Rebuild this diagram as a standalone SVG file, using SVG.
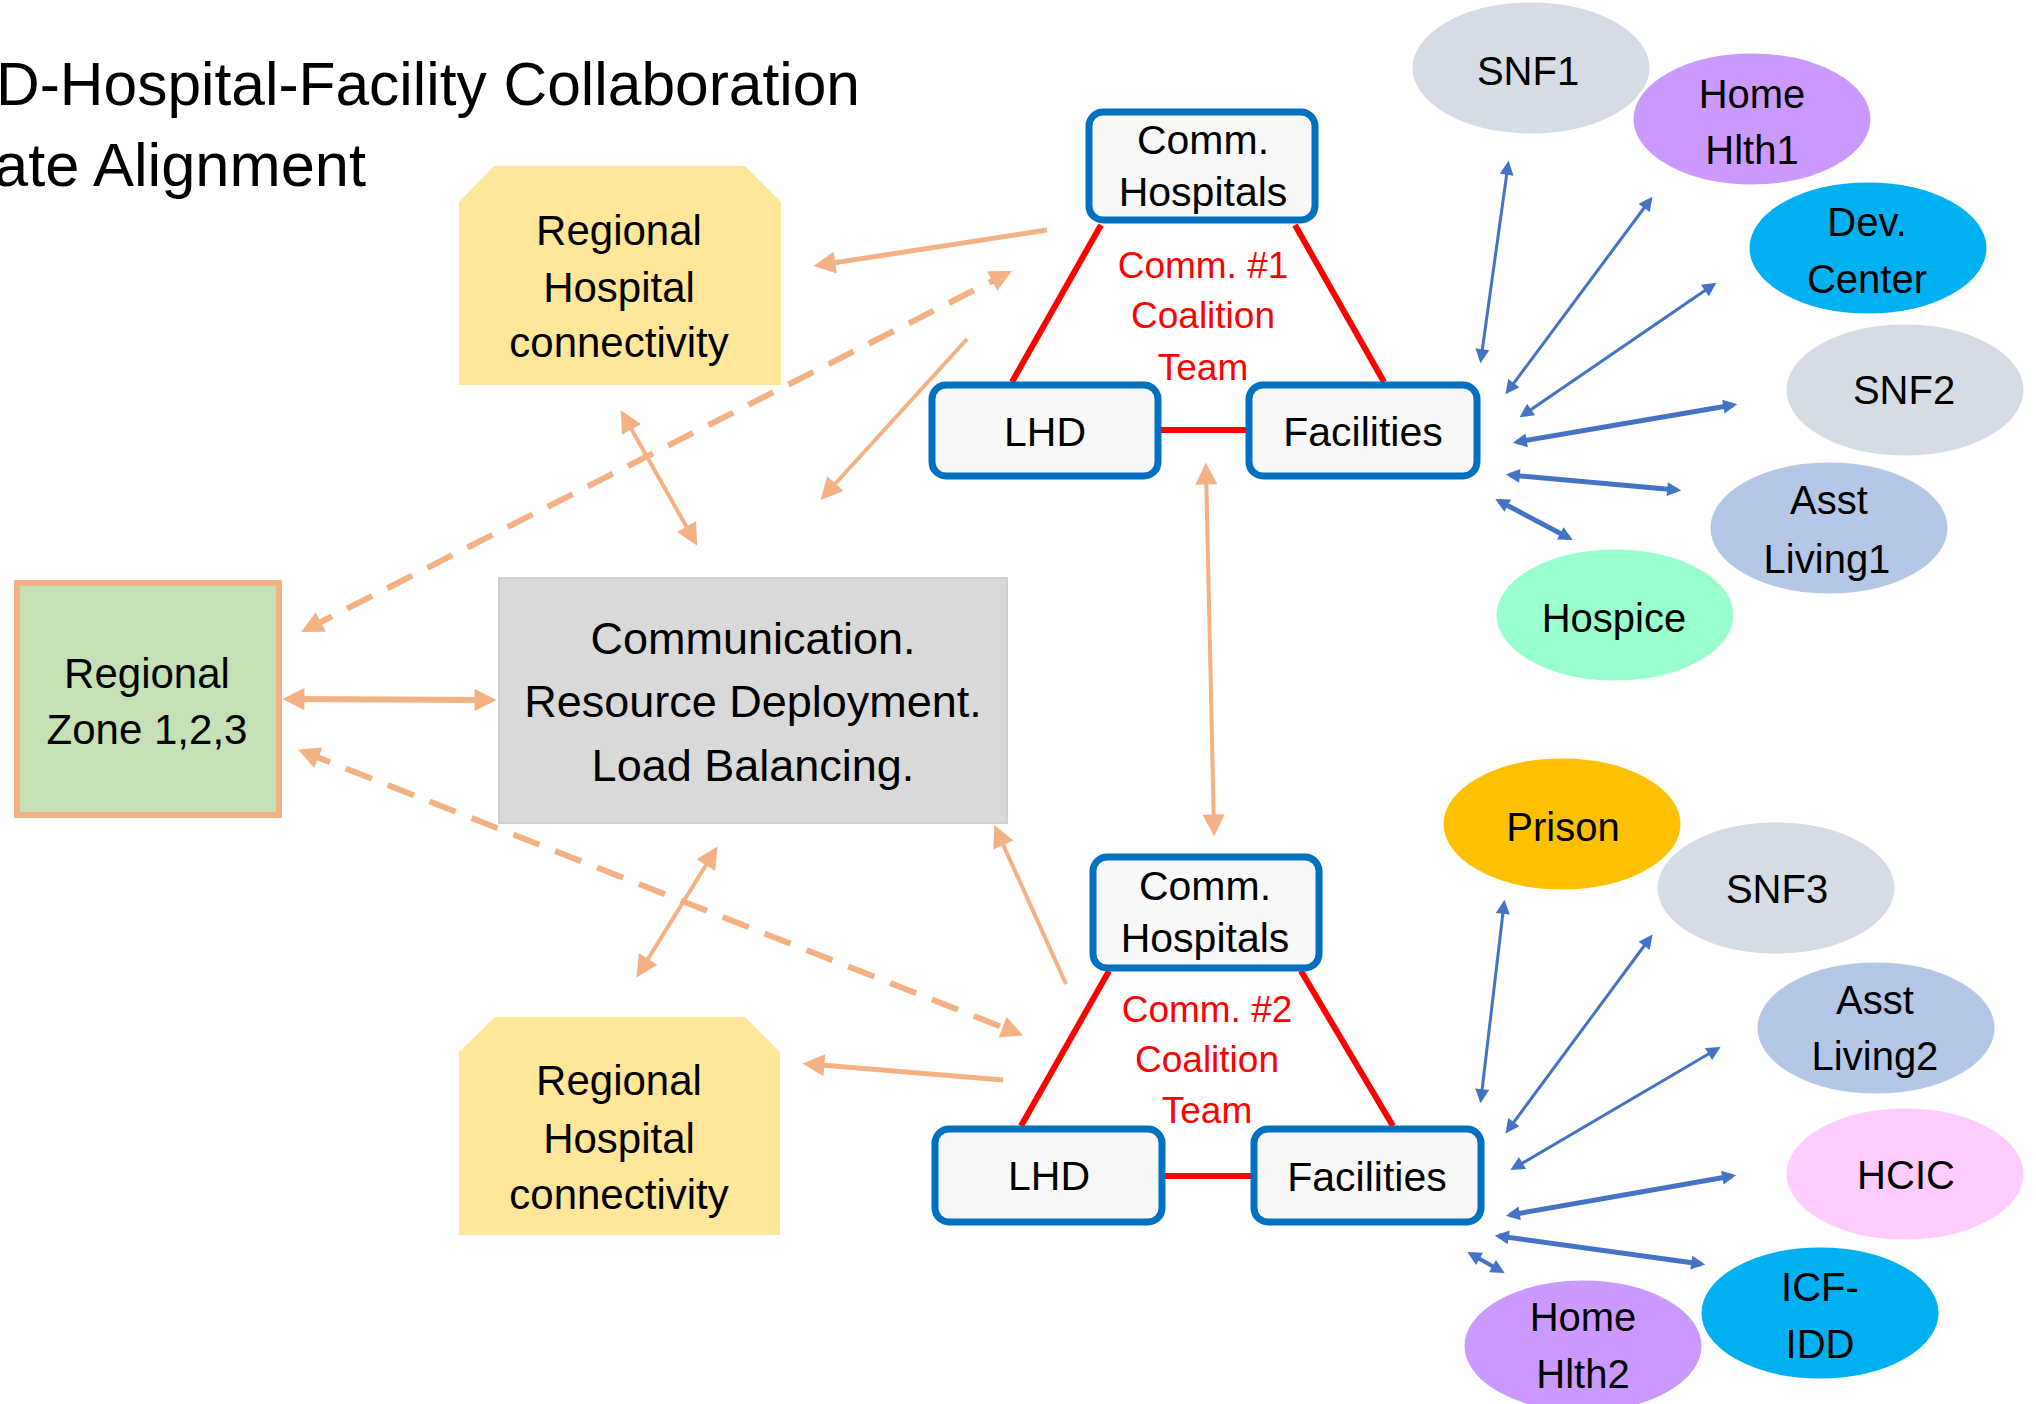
<svg xmlns="http://www.w3.org/2000/svg" width="2036" height="1404" viewBox="0 0 2036 1404">
<style>
text{font-family:"Liberation Sans",Arial,sans-serif;fill:#000;text-anchor:middle}
.t1{font-size:42px}
.t2{font-size:45px}
.tb{font-size:41px}
.te{font-size:40px}
.tr{font-size:37px;fill:#FF0000}
.box{fill:#F8F8F8;stroke:#0070C0;stroke-width:7}
.yel{fill:#FFE699}
.ell{stroke:#FFFFFF;stroke-width:3}
.red{stroke:#FF0000;stroke-width:6;fill:none}
.or{stroke:#F4B183;fill:none}
.bl{stroke:#4472C4;fill:none}
.dash{stroke-dasharray:28 17}
</style>
<defs>
<marker id="oa" viewBox="0 0 10 10" refX="7" refY="5" markerWidth="24" markerHeight="22" markerUnits="userSpaceOnUse" orient="auto-start-reverse"><path d="M0,0 L10,5 L0,10 z" fill="#F4B183"/></marker>
<marker id="ba" viewBox="0 0 10 10" refX="7" refY="5" markerWidth="16" markerHeight="14" markerUnits="userSpaceOnUse" orient="auto-start-reverse"><path d="M0,0 L10,5 L0,10 z" fill="#4472C4"/></marker>
</defs>
<rect x="0" y="0" width="2036" height="1404" fill="#FFFFFF"/>
<g id="title">
<text x="860" y="105" style="font-family:'Liberation Sans',Arial,sans-serif;font-size:62px;text-anchor:end" textLength="864" lengthAdjust="spacingAndGlyphs">D-Hospital-Facility Collaboration</text>
<text x="366" y="186" style="font-family:'Liberation Sans',Arial,sans-serif;font-size:62px;text-anchor:end" textLength="372" lengthAdjust="spacingAndGlyphs">ate Alignment</text>
</g>
<g id="connectors">
<line class="red" x1="1101" y1="225" x2="1012" y2="382"/>
<line class="red" x1="1295" y1="225" x2="1384" y2="382"/>
<line class="red" x1="1161" y1="430" x2="1246" y2="430" stroke-width="7"/>
<line class="red" x1="1109" y1="971" x2="1021" y2="1126"/>
<line class="red" x1="1301" y1="971" x2="1393" y2="1126"/>
<line class="red" x1="1165" y1="1176" x2="1251" y2="1176" stroke-width="7"/>
<line class="or" stroke-width="5" x1="1047" y1="230" x2="820" y2="265" marker-end="url(#oa)"/>
<line class="or dash" stroke-width="6" x1="307" y1="629" x2="1006" y2="274" marker-start="url(#oa)" marker-end="url(#oa)"/>
<line class="or" stroke-width="4" x1="967" y1="339" x2="825" y2="495" marker-end="url(#oa)"/>
<line class="or" stroke-width="4" x1="624" y1="416" x2="694" y2="540" marker-start="url(#oa)" marker-end="url(#oa)"/>
<line class="or" stroke-width="6" x1="289" y1="699" x2="490" y2="700" marker-start="url(#oa)" marker-end="url(#oa)"/>
<line class="or dash" stroke-width="6" x1="304" y1="752" x2="1017" y2="1033" marker-start="url(#oa)" marker-end="url(#oa)"/>
<line class="or" stroke-width="4" x1="714" y1="852" x2="640" y2="972" marker-start="url(#oa)" marker-end="url(#oa)"/>
<line class="or" stroke-width="4" x1="1066" y1="984" x2="997" y2="831" marker-end="url(#oa)"/>
<line class="or" stroke-width="5" x1="1003" y1="1080" x2="809" y2="1064" marker-end="url(#oa)"/>
<line class="or" stroke-width="4" x1="1206" y1="469" x2="1214" y2="830" marker-start="url(#oa)" marker-end="url(#oa)"/>
<line class="bl" stroke-width="3" x1="1481" y1="359" x2="1508" y2="165" marker-start="url(#ba)" marker-end="url(#ba)"/>
<line class="bl" stroke-width="3" x1="1508" y1="391" x2="1650" y2="200" marker-start="url(#ba)" marker-end="url(#ba)"/>
<line class="bl" stroke-width="3" x1="1523" y1="415" x2="1713" y2="285" marker-start="url(#ba)" marker-end="url(#ba)"/>
<line class="bl" stroke-width="5" x1="1517" y1="442" x2="1733" y2="405" marker-start="url(#ba)" marker-end="url(#ba)"/>
<line class="bl" stroke-width="5" x1="1510" y1="475" x2="1677" y2="490" marker-start="url(#ba)" marker-end="url(#ba)"/>
<line class="bl" stroke-width="5" x1="1499" y1="501" x2="1569" y2="538" marker-start="url(#ba)" marker-end="url(#ba)"/>
<line class="bl" stroke-width="3" x1="1481" y1="1099" x2="1504" y2="904" marker-start="url(#ba)" marker-end="url(#ba)"/>
<line class="bl" stroke-width="3" x1="1508" y1="1130" x2="1650" y2="938" marker-start="url(#ba)" marker-end="url(#ba)"/>
<line class="bl" stroke-width="3" x1="1514" y1="1168" x2="1717" y2="1049" marker-start="url(#ba)" marker-end="url(#ba)"/>
<line class="bl" stroke-width="5" x1="1510" y1="1215" x2="1732" y2="1176" marker-start="url(#ba)" marker-end="url(#ba)"/>
<line class="bl" stroke-width="5" x1="1499" y1="1236" x2="1701" y2="1264" marker-start="url(#ba)" marker-end="url(#ba)"/>
<line class="bl" stroke-width="4" x1="1471" y1="1254" x2="1501" y2="1271" marker-start="url(#ba)" marker-end="url(#ba)"/>
</g>
<g id="regional-hospital-1">
<polygon class="yel" points="459,202 494,166 745,166 781,202 781,385 459,385"/>
<text class="t1" x="619" y="245">Regional</text>
<text class="t1" x="619" y="302">Hospital</text>
<text class="t1" x="619" y="357">connectivity</text>
</g>
<g id="regional-hospital-2">
<polygon class="yel" points="459,1052 495,1017 745,1017 780,1052 780,1235 459,1235"/>
<text class="t1" x="619" y="1095">Regional</text>
<text class="t1" x="619" y="1153">Hospital</text>
<text class="t1" x="619" y="1209">connectivity</text>
</g>
<g id="regional-zone">
<rect x="17" y="583" width="262" height="232" fill="#C5E0B4" stroke="#F4B183" stroke-width="6"/>
<text class="t1" x="147" y="688">Regional</text>
<text class="t1" x="147" y="744">Zone 1,2,3</text>
</g>
<g id="communication">
<rect x="499" y="578" width="508" height="245" fill="#D9D9D9" stroke="#CFCFCF" stroke-width="2"/>
<text class="t2" x="753" y="654">Communication.</text>
<text class="t2" x="753" y="717">Resource Deployment.</text>
<text class="t2" x="753" y="781">Load Balancing.</text>
</g>
<g id="comm-hospitals-1">
<rect class="box" x="1089" y="112" width="226" height="108" rx="14"/>
<text class="tb" x="1203" y="154">Comm.</text>
<text class="tb" x="1203" y="206">Hospitals</text>
</g>
<g id="lhd-1">
<rect class="box" x="932" y="385" width="226" height="91" rx="14"/>
<text class="tb" x="1045" y="446">LHD</text>
</g>
<g id="facilities-1">
<rect class="box" x="1249" y="385" width="228" height="91" rx="14"/>
<text class="tb" x="1363" y="446">Facilities</text>
</g>
<g id="coalition-1">
<text class="tr" x="1203" y="278">Comm. #1</text>
<text class="tr" x="1203" y="328">Coalition</text>
<text class="tr" x="1203" y="380">Team</text>
</g>
<g id="comm-hospitals-2">
<rect class="box" x="1093" y="857" width="226" height="111" rx="14"/>
<text class="tb" x="1205" y="900">Comm.</text>
<text class="tb" x="1205" y="952">Hospitals</text>
</g>
<g id="lhd-2">
<rect class="box" x="935" y="1129" width="227" height="93" rx="14"/>
<text class="tb" x="1049" y="1190">LHD</text>
</g>
<g id="facilities-2">
<rect class="box" x="1254" y="1129" width="227" height="93" rx="14"/>
<text class="tb" x="1367" y="1191">Facilities</text>
</g>
<g id="coalition-2">
<text class="tr" x="1207" y="1022">Comm. #2</text>
<text class="tr" x="1207" y="1072">Coalition</text>
<text class="tr" x="1207" y="1123">Team</text>
</g>
<g id="snf1"><ellipse class="ell" cx="1531" cy="68" rx="120" ry="67" fill="#D6DCE5"/><text class="te" x="1528" y="85">SNF1</text></g>
<g id="home-hlth1"><ellipse class="ell" cx="1752" cy="119" rx="120" ry="67" fill="#CC99FF"/><text class="te" x="1752" y="108">Home</text><text class="te" x="1752" y="164">Hlth1</text></g>
<g id="dev-center"><ellipse class="ell" cx="1868" cy="248" rx="120" ry="67" fill="#00B0F0"/><text class="te" x="1867" y="236">Dev.</text><text class="te" x="1867" y="293">Center</text></g>
<g id="snf2"><ellipse class="ell" cx="1905" cy="390" rx="120" ry="67" fill="#D6DCE5"/><text class="te" x="1904" y="404">SNF2</text></g>
<g id="asst-living1"><ellipse class="ell" cx="1829" cy="528" rx="120" ry="67" fill="#B4C7E7"/><text class="te" x="1829" y="514">Asst</text><text class="te" x="1827" y="573">Living1</text></g>
<g id="hospice"><ellipse class="ell" cx="1615" cy="615" rx="120" ry="67" fill="#99FFCC"/><text class="te" x="1614" y="632">Hospice</text></g>
<g id="prison"><ellipse class="ell" cx="1562" cy="824" rx="120" ry="67" fill="#FFC000"/><text class="te" x="1563" y="841">Prison</text></g>
<g id="snf3"><ellipse class="ell" cx="1776" cy="888" rx="120" ry="67" fill="#D6DCE5"/><text class="te" x="1777" y="903">SNF3</text></g>
<g id="asst-living2"><ellipse class="ell" cx="1876" cy="1028" rx="120" ry="67" fill="#B4C7E7"/><text class="te" x="1875" y="1014">Asst</text><text class="te" x="1875" y="1070">Living2</text></g>
<g id="hcic"><ellipse class="ell" cx="1905" cy="1174" rx="120" ry="67" fill="#FFCCFF"/><text class="te" x="1906" y="1189">HCIC</text></g>
<g id="home-hlth2"><ellipse class="ell" cx="1583" cy="1346" rx="120" ry="67" fill="#CC99FF"/><text class="te" x="1583" y="1331">Home</text><text class="te" x="1583" y="1388">Hlth2</text></g>
<g id="icf-idd"><ellipse class="ell" cx="1820" cy="1313" rx="120" ry="67" fill="#00B0F0"/><text class="te" x="1820" y="1301">ICF-</text><text class="te" x="1820" y="1358">IDD</text></g>
</svg>
